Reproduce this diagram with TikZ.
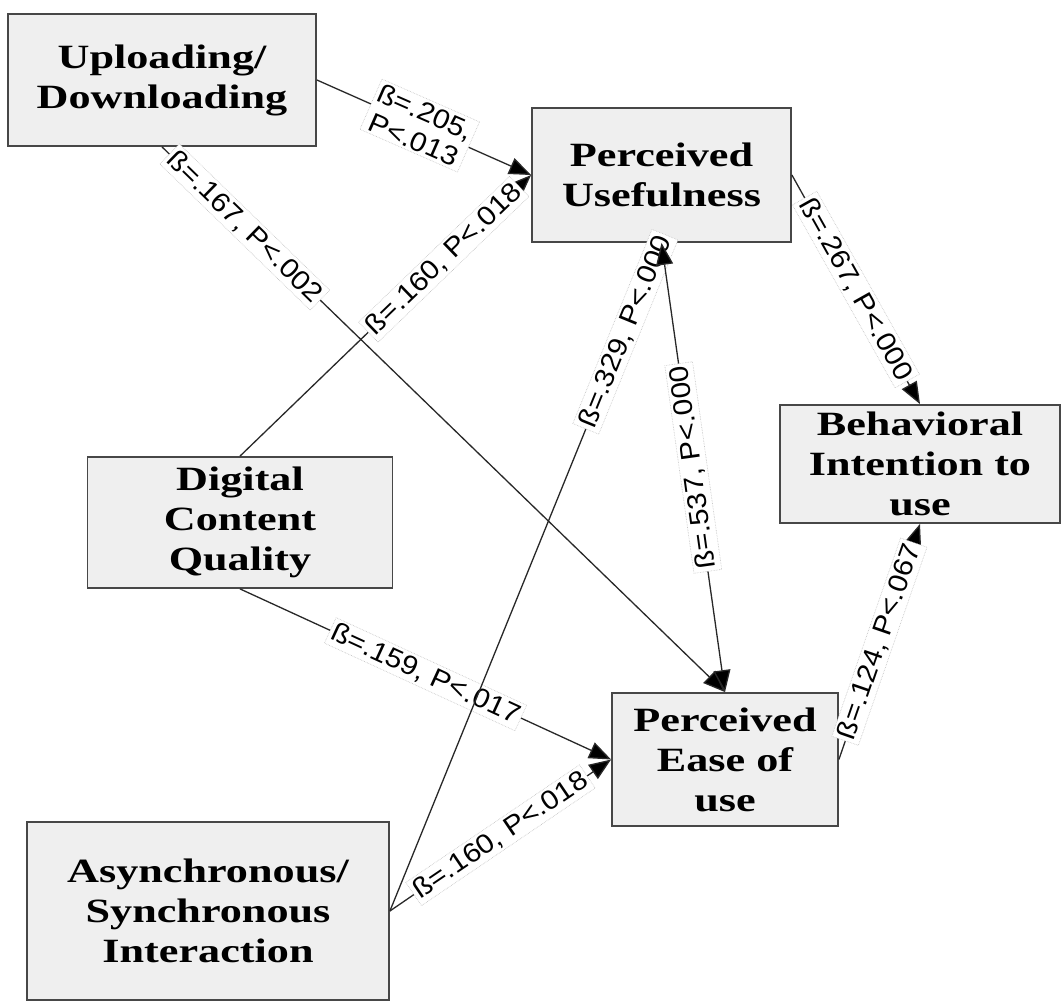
\documentclass[tikz,border=0pt]{standalone}
\usepackage{fontspec}
\setmainfont{Liberation Serif}
\newfontfamily\boxfont[FakeStretch=1.3]{Liberation Serif}
\newfontfamily\lblfont[FakeStretch=1.1]{Liberation Sans}
\usetikzlibrary{arrows.meta}
\definecolor{boxfill}{RGB}{239,239,239}
\definecolor{edgecol}{RGB}{40,40,40}
\begin{document}
\begin{tikzpicture}[x=1pt,y=-1pt,
  cbox/.style={draw=black!72, line width=1.8pt, fill=boxfill, align=center, inner sep=2pt,
    font=\boxfont\bfseries\fontsize{34}{40}\selectfont},
  lbl/.style={fill=white, draw=black!25, densely dotted, line width=0.6pt, inner sep=2.5pt,
    font=\lblfont\fontsize{27}{30}\selectfont, align=center},
  arr/.style={draw=edgecol, line width=1.3pt, -{Triangle[length=22pt,width=17pt,fill=black]}},
  darr/.style={draw=edgecol, line width=1.3pt, {Triangle[length=22pt,width=17pt,fill=black]}-{Triangle[length=22pt,width=17pt,fill=black]}},
  ]
\useasboundingbox (0,0) rectangle (1062,1003);
\fill[white] (0,0) rectangle (1062,1003);
% boxes
\node[cbox, minimum width=308pt, minimum height=132pt] (up) at (162,80) {Uploading/\\Downloading};
\node[cbox, minimum width=259pt, minimum height=134pt] (pu) at (661.5,175) {Perceived\\Usefulness};
\node[cbox, minimum width=280pt, minimum height=118pt] (bi) at (920,464) {Behavioral\\Intention to\\use};
\node[cbox, minimum width=305pt, minimum height=131pt] (dcq) at (240,522.5) {Digital\\Content\\Quality};
\node[cbox, minimum width=226pt, minimum height=133pt] (peu) at (725,759.5) {Perceived\\Ease of\\use};
\node[cbox, minimum width=362pt, minimum height=178pt] (asi) at (208,911) {Asynchronous/\\Synchronous\\Interaction};
% connectors
\draw[arr] (up.east) -- node[lbl, pos=0.48, rotate=-23.7] {ß=.205,\\P<.013} (pu.west);
\draw[arr] (up.south) -- node[lbl, pos=0.147, rotate=-44.2] {ß=.167, P<.002} (peu.north);
\draw[arr] (dcq.north) -- node[lbl, pos=0.70, rotate=44] {ß=.160, P<.018} (pu.west);
\draw[arr] (dcq.south) -- node[lbl, pos=0.5, rotate=-24.7] {ß=.159, P<.017} (peu.west);
\draw[arr] (asi.east) -- node[lbl, pos=0.5, rotate=34.1] {ß=.160, P<.018} (peu.west);
\draw[arr] (asi.east) -- node[lbl, pos=0.867, rotate=67.8] {ß=.329, P<.000} (pu.south);
\draw[darr] (pu.south) -- node[lbl, pos=0.5, rotate=98] {ß=.537, P<.000} (peu.north);
\draw[arr] (pu.east) -- node[lbl, pos=0.5, rotate=-60.7] {ß=.267, P<.000} (bi.north);
\draw[arr] (peu.east) -- node[lbl, pos=0.5, rotate=70.9] {ß=.124, P<.067} (bi.south);
\end{tikzpicture}
\end{document}
